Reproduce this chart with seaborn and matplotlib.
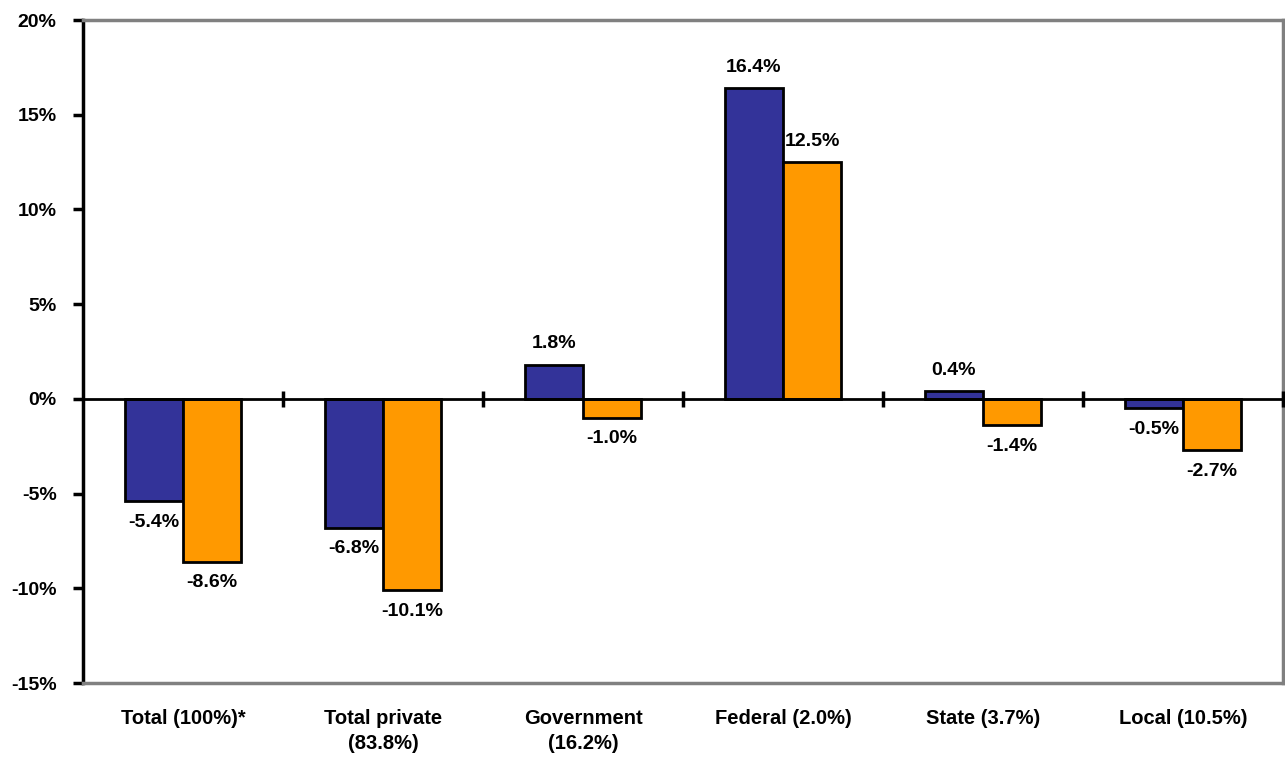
import matplotlib
matplotlib.use("Agg")
import matplotlib.pyplot as plt
import seaborn as sns
import pandas as pd

categories = ["Total (100%)*", "Total private\n(83.8%)", "Government\n(16.2%)",
              "Federal (2.0%)", "State (3.7%)", "Local (10.5%)"]
series_a = [-5.4, -6.8, 1.8, 16.4, 0.4, -0.5]
series_b = [-8.6, -10.1, -1.0, 12.5, -1.4, -2.7]
series_names = ["Series A", "Series B"]
y_ticks = [-15, -10, -5, 0, 5, 10, 15, 20]

df = pd.DataFrame({
    "category": categories * 2,
    "value": series_a + series_b,
    "series": [series_names[0]] * len(categories) + [series_names[1]] * len(categories),
})

sns.set_style("white")
plt.rcParams['font.family'] = ['Liberation Sans', 'DejaVu Sans']
plt.rcParams['font.weight'] = 'bold'
plt.rcParams['text.color'] = 'black'
plt.rcParams['xtick.color'] = 'black'
plt.rcParams['ytick.color'] = 'black'

fig = plt.figure(figsize=(12.85, 7.58), dpi=100)
ax = fig.add_axes([0.0646, 0.0989, 0.9338, 0.8747])

sns.barplot(data=df, x="category", y="value", hue="series", order=categories,
            palette=["#333399", "#FF9900"], width=0.58, gap=0,
            edgecolor="black", linewidth=2, saturation=1, legend=False, ax=ax)

for cont in ax.containers:
    ax.bar_label(cont, fmt=lambda v: f"{v:.1f}%", padding=9,
                 fontsize=14, fontweight="bold", color="black")

ax.set_xlim(-0.5, len(categories) - 0.5)
ax.set_ylim(-15, 20)
ax.set_yticks(y_ticks)
ax.set_yticklabels([f"{t}%" for t in y_ticks], fontsize=14, fontweight="bold")
ax.set_xticks(range(len(categories)))
ax.set_xticklabels(categories, fontsize=14.5, fontweight="bold", linespacing=1.4)
ax.tick_params(axis="x", length=0, pad=19, labelcolor="black")
ax.tick_params(axis="y", length=7, width=2.5, direction="out", pad=12,
               color="black", labelcolor="black", left=True)
ax.set_xlabel("")
ax.set_ylabel("")

for side in ["top", "right", "bottom"]:
    ax.spines[side].set_color("#808080")
    ax.spines[side].set_linewidth(2.5)
ax.spines["left"].set_color("black")
ax.spines["left"].set_linewidth(2.5)

# zero line with tick marks between category groups
ax.axhline(0, color="black", linewidth=2, zorder=3)
bounds = [i + 0.5 for i in range(len(categories))]
ax.plot(bounds, [0] * len(bounds), linestyle="none", marker="|",
        markersize=11, markeredgewidth=2.5, color="black", zorder=4, clip_on=False)

fig.savefig("out.png", dpi=100)
